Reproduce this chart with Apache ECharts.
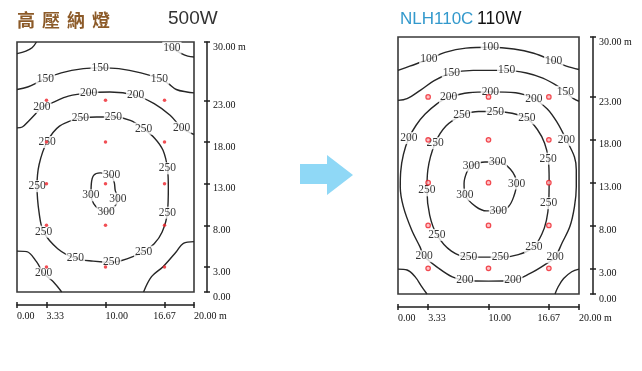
<!DOCTYPE html>
<html><head><meta charset="utf-8">
<script src="https://cdn.jsdelivr.net/npm/echarts@6/dist/echarts.min.js"></script>
<style>html,body{margin:0;padding:0;background:#fff}#c{width:642px;height:371px}</style>
</head><body><div id="c"></div><script>
// ---- ticks / measuring points ----
const xTickValues = [0, 3.33, 10, 16.67, 20];
const yTickValues = [0, 3, 8, 13, 18, 23, 30];
const measureXs = [3.33, 10, 16.67];
const measureYs = [3, 8, 13, 18, 23];
const leftTitleChars = ['高', '壓', '納', '燈'];
const leftTitleW = '500W';
const rightTitleModel = 'NLH110C';
const rightTitleW = '110W';

// ---- left: 高壓納燈 500W isolux lines (m) ----
const hps100TL = [[0,28.6],[1.0,28.9],[1.7,29.3],[2.2,30]];
const hps100TR = [[17.0,29.7],[17.5,29.3],[18.6,28.6],[19.3,28.3],[20,28.2]];
const hps150 = [[0,24.3],[1.2,24.6],[3.2,25.6],[5,26.3],[7.5,26.8],[9.4,26.9],[11.5,26.8],[14,26.3],[16.1,25.6],[17.1,25.0],[18.0,24.3],[19.2,24.0],[20,23.9]];
const hps200 = [[0,19.7],[0.6,19.8],[1.3,20.5],[2.2,21.5],[2.8,22.2],[3.95,22.7],[5.8,23.5],[8.1,23.9],[10.5,24.0],[13.4,23.6],[15.5,22.6],[17.3,21.2],[18.6,19.7],[19.4,19.2],[20,18.9]];
const hps200BL = [[0,4.9],[1.1,4.84],[2.2,3.64],[3.0,2.24],[4.1,1.24],[5.05,0]];
const hps200BR = [[20,6.04],[18.8,5.84],[18.0,4.84],[16.5,3.04],[15.2,1.84],[14.3,0]];
const hps250 = [[7.15,20.9],[9.0,21.0],[10.9,21.0],[12.8,20.6],[14.3,19.6],[15.6,18.4],[16.5,17],[17.0,14.84],[17.1,12.5],[17.0,9.52],[16.4,7.2],[15.5,5.8],[14.3,4.84],[12.5,4.0],[10.7,3.56],[8.6,3.7],[6.6,4.04],[4.6,5.2],[3.0,7.24],[2.5,9.5],[2.26,12.7],[2.5,15.3],[3.39,18.0],[4.8,19.9],[7.15,20.9]];
const hps300 = [[10.7,14.0],[9.4,14.3],[8.66,14.0],[8.4,13.0],[8.36,11.6],[8.66,10.6],[9.3,9.9],[10.06,9.64],[10.9,10.1],[11.4,11.2],[11.1,12.2],[11.0,13.1],[10.7,14.0]];
const hpsLabels = [
  [17.5,29.3,'100'],
  [3.2,25.6,'150'],[9.4,26.9,'150'],[16.1,25.6,'150'],
  [2.8,22.2,'200'],[8.1,23.9,'200'],[13.4,23.6,'200'],[18.6,19.7,'200'],[3.0,2.24,'200'],
  [7.15,20.9,'250'],[10.9,21.0,'250'],[14.3,19.6,'250'],[17.0,14.84,'250'],[17.0,9.52,'250'],
  [14.3,4.84,'250'],[10.7,3.56,'250'],[6.6,4.04,'250'],[3.0,7.24,'250'],[2.26,12.7,'250'],[3.39,18.0,'250'],
  [10.7,14.0,'300'],[8.36,11.6,'300'],[11.4,11.2,'300'],[10.06,9.64,'300']
];

// ---- right: NLH110C 110W isolux lines (m) ----
const nlh100 = [[0,26.1],[1.3,26.6],[3.4,27.4],[5.2,28.2],[7.5,28.7],[10.2,28.8],[12.8,28.6],[15.0,28.1],[17.2,27.2],[18.6,26.6],[20,26.2]];
const nlh150 = [[0,22.6],[1.0,22.8],[2.5,23.8],[4.0,24.9],[5.9,25.8],[8.3,26.1],[12.0,26.1],[14.2,25.8],[16.0,25.2],[17.6,24.3],[18.5,23.6],[19.4,22.8],[20,22.5]];
const nlh150BL = [[0,2.9],[1.0,2.8],[1.9,2.0],[2.6,0.9],[3.2,0]];
const nlh150BR = [[20,2.9],[19.2,2.6],[18.3,1.8],[17.7,0.85],[17.35,0]];
const nlh200 = [[5.6,23.0],[4.3,22.2],[3.0,21.0],[2.0,19.7],[1.2,18.2],[0.6,16.3],[0.3,14.3],[0.25,12.5],[0.59,10.2],[1.5,7.5],[2.43,5.5],[2.9,4.4],[4.5,3.0],[6.0,2.0],[7.4,1.6],[10,1.5],[12.7,1.6],[14.6,2.4],[16.2,3.4],[17.35,4.3],[18.1,5.9],[19.0,7.9],[19.5,10.2],[19.7,12.5],[19.7,14.5],[19.5,16.0],[18.6,18.0],[17.6,20.0],[16.5,21.6],[15.0,22.8],[13.0,23.5],[10.2,23.6],[7.8,23.5],[5.6,23.0]];
const nlh250 = [[7.07,20.9],[8.9,21.3],[10.75,21.3],[12.6,21.1],[14.25,20.5],[15.4,19.2],[16.2,17.6],[16.6,15.8],[16.7,13.3],[16.65,10.6],[16.4,8.6],[15.9,7.0],[15.0,5.5],[13.3,4.6],[11.3,4.3],[9.5,4.3],[7.8,4.3],[5.9,5.0],[4.3,6.9],[3.5,9.2],[3.2,12.1],[3.3,14.5],[4.1,17.6],[5.3,19.6],[7.07,20.9]];
const nlh300 = [[8.1,15.0],[9.6,15.4],[11.0,15.4],[12.4,14.6],[13.1,12.9],[12.8,11.4],[12.2,10.2],[11.1,9.7],[9.8,9.7],[8.6,10.2],[7.4,11.6],[7.3,12.9],[7.6,14.2],[8.1,15.0]];
const nlhLabels = [
  [3.4,27.4,'100'],[10.2,28.8,'100'],[17.2,27.2,'100'],
  [5.9,25.8,'150'],[12.0,26.1,'150'],[18.5,23.6,'150'],
  [5.6,23.0,'200'],[10.2,23.6,'200'],[15.0,22.8,'200'],[1.2,18.2,'200'],[18.6,18.0,'200'],
  [2.9,4.4,'200'],[7.4,1.6,'200'],[12.7,1.6,'200'],[17.35,4.3,'200'],
  [7.07,20.9,'250'],[10.75,21.3,'250'],[14.25,20.5,'250'],[16.6,15.8,'250'],[16.65,10.6,'250'],
  [15.0,5.5,'250'],[11.3,4.3,'250'],[7.8,4.3,'250'],[4.3,6.9,'250'],[3.2,12.1,'250'],[4.1,17.6,'250'],
  [8.1,15.0,'300'],[11.0,15.4,'300'],[13.1,12.9,'300'],[11.1,9.7,'300'],[7.4,11.6,'300']
];

const leftLines = [hps100TL, hps100TR, hps150, hps200, hps200BL, hps200BR, hps250, hps300];
const rightLines = [nlh100, nlh150, nlh150BL, nlh150BR, nlh200, nlh250, nlh300];

const SERIF = '"Liberation Serif", "DejaVu Serif", serif';
const INK = '#1e1e1e';

function xAxes(grid) {
  const base = {gridIndex: grid, type: 'value', min: 0, max: 20, position: 'bottom', offset: 13, splitLine: {show: false}};
  return [
    Object.assign({}, base, {
      axisLine: {show: true, onZero: false, lineStyle: {color: INK, width: 1.5}},
      axisTick: {show: true, customValues: xTickValues, length: 3, lineStyle: {color: INK, width: 1.5}},
      axisLabel: {customValues: xTickValues.filter(v => v !== 16.67), align: 'left', margin: 6,
        formatter: v => v === 20 ? '20.00 m' : v.toFixed(2), fontFamily: SERIF, fontSize: 10, color: '#111'}
    }),
    Object.assign({}, base, {
      axisLine: {show: false, onZero: false},
      axisTick: {show: true, inside: true, customValues: xTickValues, length: 3, lineStyle: {color: INK, width: 1.5}},
      axisLabel: {customValues: [16.67], align: 'center', margin: 6,
        formatter: v => v.toFixed(2), fontFamily: SERIF, fontSize: 10, color: '#111'}
    })
  ];
}
function yAxes(grid, off) {
  const base = {gridIndex: grid, type: 'value', min: 0, max: 30, position: 'right', offset: off, splitLine: {show: false}};
  return [
    Object.assign({}, base, {
      axisLine: {show: true, onZero: false, lineStyle: {color: INK, width: 1.5}},
      axisTick: {show: true, customValues: yTickValues, length: 3, lineStyle: {color: INK, width: 1.5}},
      axisLabel: {customValues: yTickValues, align: 'left', verticalAlign: 'top', margin: 6,
        formatter: v => v === 30 ? '30.00 m' : v.toFixed(2), fontFamily: SERIF, fontSize: 10, color: '#111'}
    }),
    Object.assign({}, base, {
      axisLine: {show: false, onZero: false},
      axisTick: {show: true, inside: true, customValues: yTickValues, length: 3, lineStyle: {color: INK, width: 1.5}},
      axisLabel: {show: false}
    })
  ];
}

const series = [];
function addLines(lines, xi, yi) {
  lines.forEach(d => series.push({type: 'line', xAxisIndex: xi, yAxisIndex: yi, data: d, smooth: 0.35,
    symbol: 'none', silent: true, z: 2, lineStyle: {color: '#262626', width: 1.4}}));
}
function addLabels(labels, xi, yi) {
  series.push({type: 'scatter', xAxisIndex: xi, yAxisIndex: yi, data: labels, symbolSize: 0, silent: true, z: 3,
    label: {show: true, position: 'inside', formatter: p => p.value[2], fontFamily: SERIF, fontSize: 11.5,
      color: '#000', backgroundColor: '#fff', padding: [0, 1]}});
}
function measurePoints() {
  const pts = [];
  measureXs.forEach(x => measureYs.forEach(y => pts.push([x, y])));
  return pts;
}
addLines(leftLines, 0, 0);
addLabels(hpsLabels, 0, 0);
series.push({type: 'scatter', xAxisIndex: 0, yAxisIndex: 0, data: measurePoints(), symbol: 'circle', symbolSize: 3.5,
  itemStyle: {color: '#ee2229'}, z: 5, silent: true});
addLines(rightLines, 2, 2);
addLabels(nlhLabels, 2, 2);
series.push({type: 'scatter', xAxisIndex: 2, yAxisIndex: 2, data: measurePoints(), symbol: 'circle', symbolSize: 4.5,
  itemStyle: {color: '#ffb3b8', borderColor: '#ee2229', borderWidth: 1.2}, z: 5, silent: true});

const chart = echarts.init(document.getElementById('c'), null, {renderer: 'canvas'});
chart.setOption({
  animation: false,
  backgroundColor: '#fff',
  grid: [
    {left: 17, top: 42, width: 177, height: 250, show: true, borderColor: '#3a3a3a', borderWidth: 1.6, backgroundColor: 'transparent'},
    {left: 398, top: 37, width: 181, height: 257, show: true, borderColor: '#3a3a3a', borderWidth: 1.6, backgroundColor: 'transparent'}
  ],
  xAxis: xAxes(0).concat(xAxes(1)),
  yAxis: yAxes(0, 13).concat(yAxes(1, 14)),
  graphic: [
    ...leftTitleChars.map((ch, i) => ({type: 'text', x: 17 + i * 25, y: 20,
      style: {text: ch, fill: '#8c5a28', font: 'bold 18px "Noto Sans CJK TC"', textVerticalAlign: 'middle'}})),
    {type: 'text', x: 168, y: 19, style: {text: leftTitleW, fill: '#333', font: '19px "Liberation Sans"', textVerticalAlign: 'middle'}},
    {type: 'text', x: 400, y: 19, style: {text: rightTitleModel, fill: '#3399cc', font: '17px "Liberation Sans"', textVerticalAlign: 'middle'}},
    {type: 'text', x: 477, y: 19, style: {text: rightTitleW, fill: '#111', font: '17.5px "Liberation Sans"', textVerticalAlign: 'middle'}},
    {type: 'polygon', shape: {points: [[300,164],[327,164],[327,155],[353,175],[327,195],[327,184],[300,184]]},
      style: {fill: '#8fd8f6'}}
  ],
  series: series
});
</script></body></html>
